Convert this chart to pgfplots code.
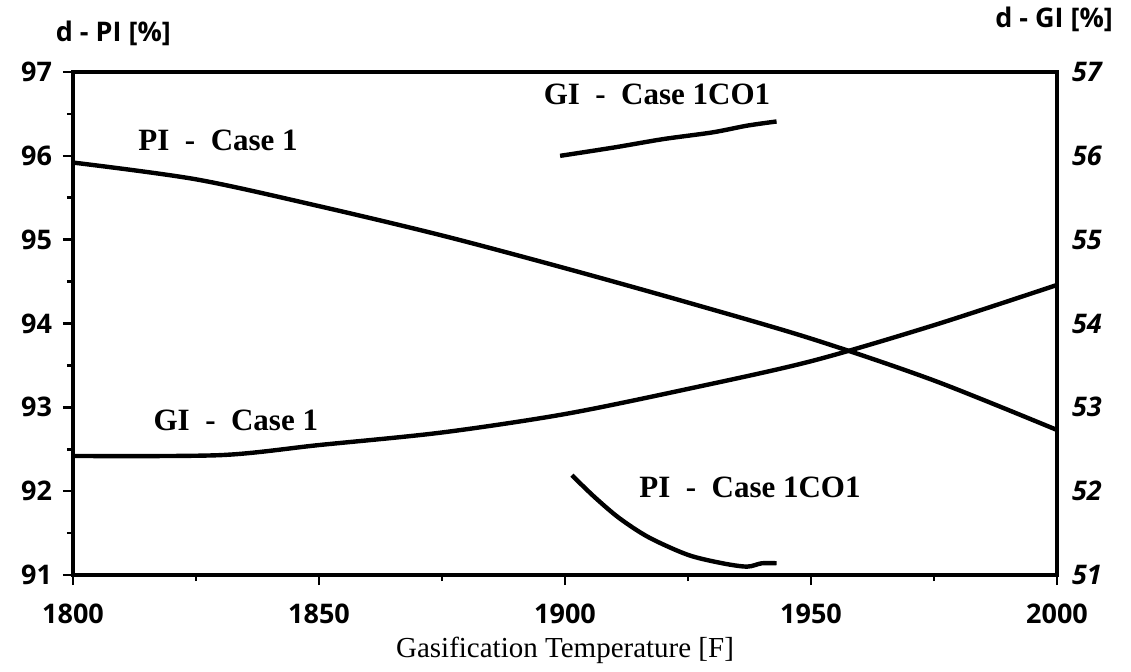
\documentclass[border=0pt]{standalone}
\usepackage{fontspec}
\setmainfont{Liberation Serif}
\newfontfamily\sansf{Open Sans}
\usepackage{pgfplots}
\pgfplotsset{compat=1.18}
\begin{document}
\begin{tikzpicture}
\useasboundingbox (-36.5pt,-48pt) rectangle (529pt,287.5pt);
\begin{axis}[
  at={(0pt,0pt)}, anchor=south west,
  scale only axis, width=492pt, height=251.5pt,
  xmin=1800, xmax=2000, ymin=91, ymax=97,
  xtick={1800,1850,...,2000}, minor x tick num=1,
  ytick={91,92,...,97}, minor y tick num=1,
  xtick pos=left, ytick pos=left,
  tick align=outside, major tick length=5pt, minor tick length=3pt,
  every tick/.style={line width=1.3pt, black},
  axis line style={line width=1.7pt},
  /pgf/number format/assume math mode=true,
  /pgf/number format/1000 sep={},
  ticklabel style={font=\sansf\bfseries\fontsize{13.5}{13.5}\selectfont},
  yticklabel style={xshift=-2pt},
  xticklabel style={yshift=-6pt},
  clip=false,
]
\addplot[black, line width=2.2pt, smooth] coordinates {
 (1800,95.92) (1825,95.72) (1850,95.40) (1875,95.05) (1900,94.66)
 (1925,94.25) (1950,93.82) (1975,93.32) (2000,92.73)};
\addplot[black, line width=2.2pt, smooth] coordinates {
 (1901.4,92.19) (1906,91.93) (1911,91.68) (1917,91.45) (1925,91.24)
 (1932,91.14) (1937,91.10) (1940,91.14) (1943,91.14)};
\node[font=\bfseries\fontsize{15.5}{15.5}\selectfont] at (axis cs:1829.5,96.18) {PI \ - \ Case 1};
\node[font=\bfseries\fontsize{15.5}{15.5}\selectfont] at (axis cs:1918.7,96.73) {GI \ - \ Case 1CO1};
\node[font=\bfseries\fontsize{15.5}{15.5}\selectfont] at (axis cs:1833.1,92.84) {GI \ - \ Case 1};
\node[font=\bfseries\fontsize{15.5}{15.5}\selectfont] at (axis cs:1937.6,92.05) {PI \ - \ Case 1CO1};
\node[font=\sansf\bfseries\fontsize{13.5}{13.5}\selectfont] at (rel axis cs:0.041,1.0775) {d - PI [\%]};
\node[font=\sansf\bfseries\fontsize{13.5}{13.5}\selectfont] at (rel axis cs:0.997,1.105) {d - GI [\%]};
\node[font=\fontsize{14.5}{14.5}\selectfont] at (rel axis cs:0.5,0) [yshift=-37.5pt] {Gasification Temperature [F]};
\end{axis}
\begin{axis}[
  at={(0pt,0pt)}, anchor=south west,
  scale only axis, width=492pt, height=251.5pt,
  xmin=1800, xmax=2000, ymin=51, ymax=57,
  axis y line*=right, axis x line=none,
  ytick={51,52,...,57},
  major tick length=0pt,
  axis line style={line width=1.3pt},
  /pgf/number format/assume math mode=true,
  ticklabel style={font=\sansf\bfseries\itshape\fontsize{13.5}{13.5}\selectfont},
  yticklabel style={xshift=4pt},
  clip=false,
]
\addplot[black, line width=2.2pt, smooth] coordinates {
 (1800,52.42) (1830,52.43) (1850,52.55) (1875,52.70) (1900,52.92)
 (1925,53.22) (1950,53.55) (1975,53.98) (2000,54.46)};
\addplot[black, line width=2.2pt, smooth] coordinates {
 (1899,56.0) (1910,56.1) (1920,56.2) (1930,56.28) (1937,56.36) (1943,56.41)};
\end{axis}
\end{tikzpicture}
\end{document}
